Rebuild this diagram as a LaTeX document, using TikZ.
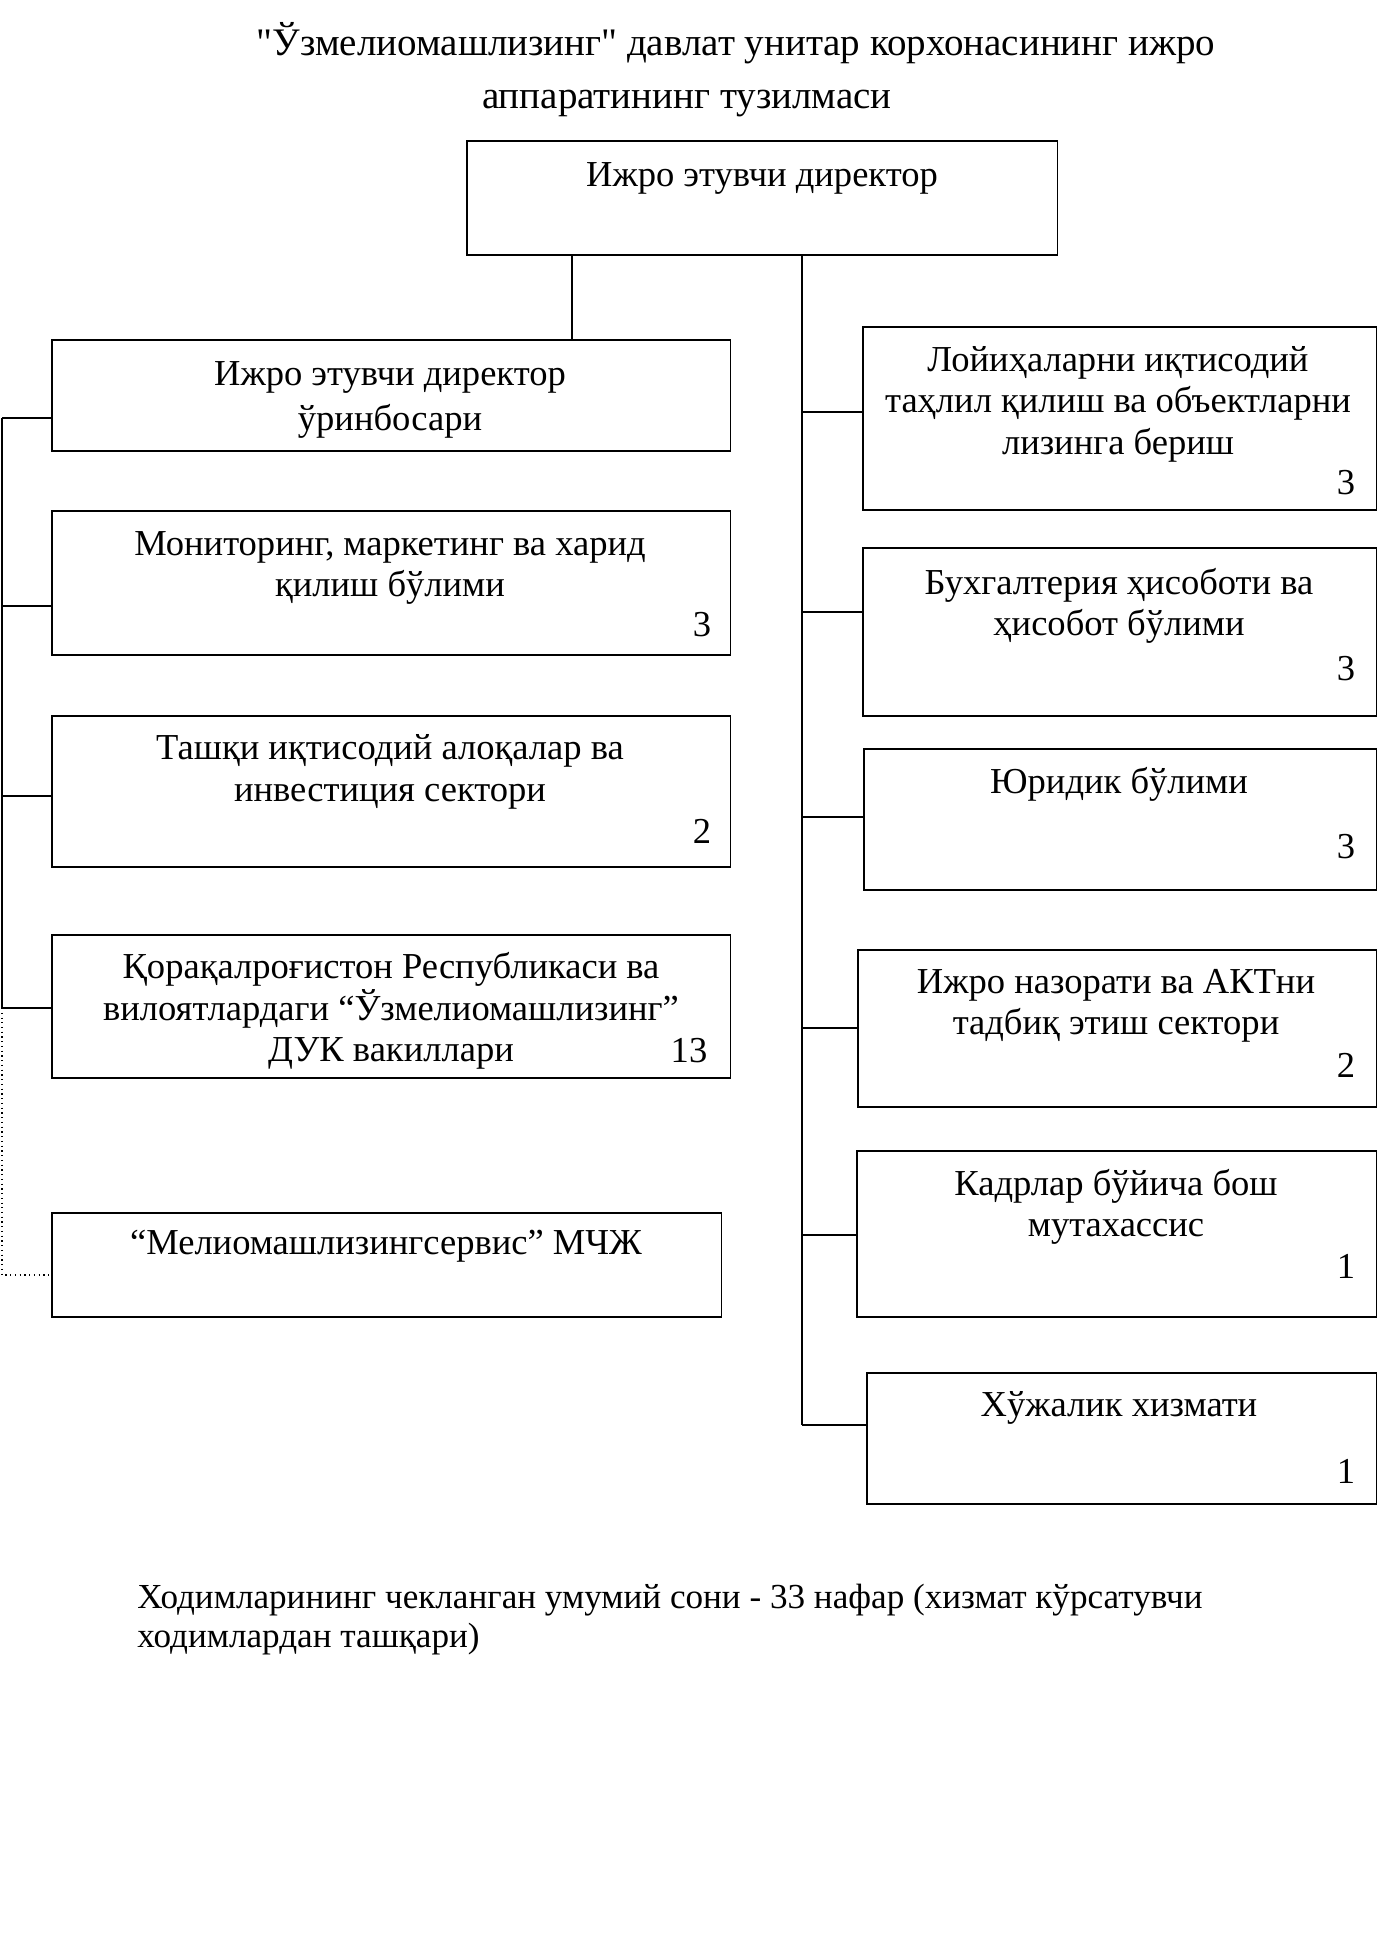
\documentclass[tikz,border=0pt]{standalone}
\usepackage{fontspec}
\setmainfont{Liberation Serif}
\newfontfamily\headfont{Liberation Serif}
\usetikzlibrary{positioning}

\tikzset{
    unit/.style={draw, line width=0.9pt, inner sep=0pt, anchor=north west},
    unittext/.style={align=center, inner sep=0pt, font=\fontsize{20.8}{23.6}\selectfont},
    count/.style={inner sep=0pt, font=\fontsize{20.8}{23.6}\selectfont},
    heading/.style={inner sep=0pt, font=\headfont\fontsize{22.2}{26}\selectfont},
    note/.style={align=left, anchor=west, inner sep=0pt, font=\fontsize{20}{22.2}\selectfont},
    link/.style={line width=0.7pt},
    dotlink/.style={line width=0.7pt, dotted}
}

\begin{document}
\begin{tikzpicture}[x=0.02cm, y=-0.02cm]
    \useasboundingbox (0,0) rectangle (1378,1954);

    \node[heading] (title1) at (736,43) {"Ўзмелиомашлизинг" давлат унитар корхонасининг ижро};
    \node[heading] (title2) at (687,104) {аппаратининг тузилмаси};

    % boxes
    \node[unit, minimum width=11.82cm, minimum height=2.28cm] (dir) at (466,140) {};

    \node[unit, minimum width=13.58cm, minimum height=2.22cm] (dep) at (51,339) {};
    \node[unit, minimum width=13.58cm, minimum height=2.88cm] (mon) at (51,510) {};
    \node[unit, minimum width=13.58cm, minimum height=3.02cm] (ext) at (51,715) {};
    \node[unit, minimum width=13.58cm, minimum height=2.86cm] (reg) at (51,934) {};
    \node[unit, minimum width=13.40cm, minimum height=2.08cm] (serv) at (51,1212) {};

    \node[unit, minimum width=10.28cm, minimum height=3.66cm] (proj) at (862,326) {};
    \node[unit, minimum width=10.28cm, minimum height=3.36cm] (acc) at (862,547) {};
    \node[unit, minimum width=10.26cm, minimum height=2.82cm] (law) at (863,748) {};
    \node[unit, minimum width=10.38cm, minimum height=3.14cm] (ctrl) at (857,949) {};
    \node[unit, minimum width=10.40cm, minimum height=3.32cm] (hr) at (856,1150) {};
    \node[unit, minimum width=10.20cm, minimum height=2.62cm] (eco) at (866,1372) {};

    % texts
    \node[unittext] (dirtext) at (762,178) {Ижро этувчи директор};
    \node[unittext] (deptext) at (390,400) {Ижро этувчи директор\\[2pt]ўринбосари};
    \node[unittext] (montext) at (390,568) {Мониторинг, маркетинг ва харид\\қилиш бўлими};
    \node[unittext] (exttext) at (390,772) {Ташқи иқтисодий алоқалар ва\\инвестиция сектори};
    \node[unittext] (regtext) at (391,1011) {Қорақалроғистон Республикаси ва\\вилоятлардаги “Ўзмелиомашлизинг”\\ДУК вакиллари};
    \node[unittext] (servtext) at (386,1246) {“Мелиомашлизингсервис” МЧЖ};

    \node[unittext] (projtext) at (1118,404) {Лойиҳаларни иқтисодий\\таҳлил қилиш ва объектларни\\лизинга бериш};
    \node[unittext] (acctext) at (1119,606) {Бухгалтерия ҳисоботи ва\\ҳисобот бўлими};
    \node[unittext] (lawtext) at (1119,784) {Юридик бўлими};
    \node[unittext] (ctrltext) at (1116,1006) {Ижро назорати ва АКТни\\тадбиқ этиш сектори};
    \node[unittext] (hrtext) at (1116,1207) {Кадрлар бўйича бош\\мутахассис};
    \node[unittext] (ecotext) at (1119,1408) {Хўжалик хизмати};

    % staff numbers
    \node[count] (moncount) at (702,625) {3};
    \node[count] (extcount) at (702,831) {2};
    \node[count] (regcount) at (689,1051) {13};
    \node[count] (projcount) at (1346,483) {3};
    \node[count] (acccount) at (1346,669) {3};
    \node[count] (lawcount) at (1346,847) {3};
    \node[count] (ctrlcount) at (1346,1065) {2};
    \node[count] (hrcount) at (1346,1266) {1};
    \node[count] (ecocount) at (1346,1471) {1};

    % connectors
    \coordinate (ltrunk) at (2,0);
    \coordinate (rtrunk) at (802,0);
    \coordinate (depjoin) at (572,0);

    \draw[link] (dir.south -| depjoin) -- (dep.north -| depjoin);
    \draw[link] (dir.south -| rtrunk) -- (rtrunk |- 0,1425);

    \draw[link] (ltrunk |- 0,418) -- (ltrunk |- 0,1008);
    \draw[dotlink] (ltrunk |- 0,1008) -- (ltrunk |- 0,1275) -- (serv.west |- 0,1275);

    \foreach \b/\y in {dep/418, mon/606, ext/796, reg/1008}
        \draw[link] (ltrunk |- 0,\y) -- (\b.west |- 0,\y);
    \foreach \b/\y in {proj/412, acc/612, law/817, ctrl/1028, hr/1235, eco/1425}
        \draw[link] (rtrunk |- 0,\y) -- (\b.west |- 0,\y);

    \node[note] (staff) at (137,1620) {Ходимларининг чекланган умумий сони - 33 нафар (хизмат кўрсатувчи\\ходимлардан ташқари)};
\end{tikzpicture}
\end{document}
